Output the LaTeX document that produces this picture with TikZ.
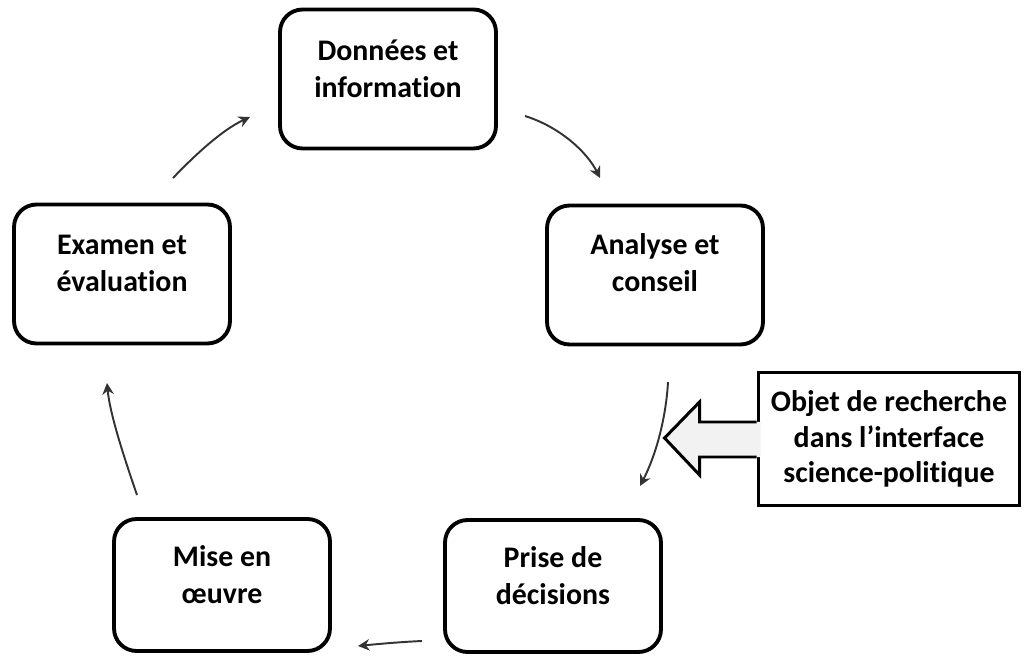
\documentclass[tikz,border=0pt]{standalone}
\usepackage{fontspec}
\setmainfont{Carlito}[Ligatures=NoCommon]
\usetikzlibrary{positioning}
\usetikzlibrary{arrows.meta}

\begin{document}
\begin{tikzpicture}[x=0.02cm, y=-0.02cm, >={Stealth[length=6.5pt, width=6.5pt]},
  stage/.style={rectangle, rounded corners=0.45cm, draw, line width=2.2pt, minimum width=4.32cm, minimum height=2.78cm, align=center, font=\fontsize{17}{21}\selectfont\bfseries},
  callout/.style={rectangle, draw, line width=1.7pt, minimum width=5.24cm, minimum height=2.66cm, align=center, font=\fontsize{17}{20}\selectfont\bfseries},
  flow/.style={->, draw=black!80, line width=1.1pt},
  pale/.style={fill=black!5}]

  \useasboundingbox (0,0) rectangle (1032,662);

  % the five stages of the cycle
  \node[stage] (donnees) at (388,79) {Donn\'ees et\\information\\[-9pt]\mbox{}};
  \node[stage] (analyse) at (655,275) {Analyse et\\conseil\\[-7pt]\mbox{}};
  \node[stage] (examen) at (122,274) {Examen et\\\'evaluation\\[-9pt]\mbox{}};
  \node[stage, minimum height=2.64cm] (mise) at (222,585) {Mise en\\\oe uvre\\[-9pt]\mbox{}};
  \node[stage, minimum height=2.64cm] (prise) at (553,586) {Prise de\\d\'ecisions\\[-9pt]\mbox{}};

  % research object and its wide arrow
  \node[callout] (objet) at (889,439) {Objet de recherche\\dans l’interface\\science-politique};
  \fill[pale] (objet.west) ++(4,-17) -- ++(-61,0) -- ++(0,-20) -- ++(-35,36) -- ++(35,37) -- ++(0,-18) -- ++(61,0) -- cycle;
  \draw[line width=1.7pt, line join=miter] (objet.west) ++(0,-17) -- ++(-57,0) -- ++(0,-20) -- ++(-35,36) -- ++(35,37) -- ++(0,-18) -- ++(57,0);

  % free ends of the cycle arrows
  \coordinate (outDonnees) at (525,116);
  \coordinate (inAnalyse) at (600,178);
  \coordinate (outAnalyse) at (668,382);
  \coordinate (inPrise) at (640,486);
  \coordinate (outPrise) at (422,641);
  \coordinate (inMise) at (358,646);
  \coordinate (outMise) at (137,495);
  \coordinate (inExamen) at (107,383);
  \coordinate (outExamen) at (173,178);
  \coordinate (inDonnees) at (250,117);

  \draw[flow] (outDonnees) .. controls (560,127) and (587,152) .. (inAnalyse);
  \draw[flow] (outAnalyse) .. controls (666,418) and (656,455) .. (inPrise);
  \draw[flow] (outPrise) .. controls (400,642) and (378,644) .. (inMise);
  \draw[flow] (outMise) .. controls (125,460) and (110,415) .. (inExamen);
  \draw[flow] (outExamen) .. controls (195,155) and (222,130) .. (inDonnees);
\end{tikzpicture}
\end{document}
